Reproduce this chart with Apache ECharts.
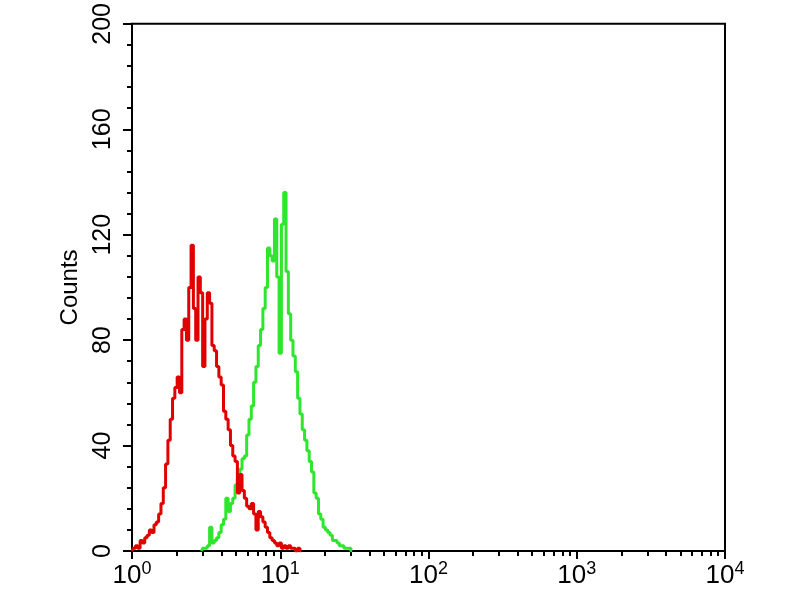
<!DOCTYPE html>
<html>
<head>
<meta charset="utf-8">
<script src="https://cdn.jsdelivr.net/npm/echarts@6/dist/echarts.min.js"></script>
<style>html,body{margin:0;padding:0;background:#fff}#c{width:800px;height:600px}</style>
</head>
<body>
<div id="c"></div>
<script>
// Histogram channels: 64 log-spaced channels per decade, x = 10^(channel/64)
var channelsPerDecade = 64;
var redStartChannel = 0;
var redCounts = [0,1,2,1,4,3,5,6,8,7,10,11,14,18,24,33,42,50,58,62,66,60,84,88,80,100,116,92,80,104,98,70,88,98,94,78,76,70,66,63,53,50,46,40,36,34,22,29,23,20,17,16,18,14,8,15,13,11,9,7,5,4,3,2,3,1,2,1,2,1,1,0,1,0];
var greenStartChannel = 30;
var greenCounts = [0,1,1,2,9,3,4,5,7,10,12,20,15,18,20,25,28,31,35,36,44,50,55,64,70,78,84,92,100,115,112,110,126,104,75,124,136,106,90,80,74,68,58,52,46,42,38,34,30,22,20,14,12,9,8,7,6,4,4,3,2,2,1,1,1,0];
var xMajorTicks = [1, 10, 100, 1000, 10000];
var xMinorTicks = [2,3,4,5,6,7,8,9,20,30,40,50,60,70,80,90,200,300,400,500,600,700,800,900,2000,3000,4000,5000,6000,7000,8000,9000];
var yTicks = [0, 40, 80, 120, 160, 200];
var yAxisName = 'Counts';

function toPairs(start, counts) {
  return counts.map(function (c, i) { return [Math.pow(10, (start + i) / channelsPerDecade), c]; });
}

var font = '"Liberation Sans", Arial, sans-serif';
var chart = echarts.init(document.getElementById('c'), null, {renderer: 'canvas'});
chart.setOption({
  animation: false,
  backgroundColor: '#fff',
  grid: {left: 132, right: 75, top: 21, bottom: 49, show: true, borderColor: '#000', borderWidth: 2, backgroundColor: 'transparent'},
  xAxis: [{
    type: 'log', logBase: 10, min: 1, max: 10000,
    axisLine: {show: true, onZero: false, lineStyle: {color: '#000', width: 2}},
    axisTick: {show: true, inside: false, length: 8, customValues: xMajorTicks, lineStyle: {color: '#000', width: 2}},
    splitLine: {show: false},
    axisLabel: {
      margin: 8, color: '#000', fontFamily: font, customValues: xMajorTicks,
      formatter: function (v) { return '{b|10}{s|' + Math.round(Math.log10(v)) + '}'; },
      rich: {
        b: {fontSize: 26, fontFamily: font, color: '#000', verticalAlign: 'bottom', lineHeight: 30},
        s: {fontSize: 18, fontFamily: font, color: '#000', verticalAlign: 'bottom', lineHeight: 30, padding: [0, 0, 11, 0]}
      }
    }
  }, {
    type: 'log', logBase: 10, min: 1, max: 10000, position: 'bottom',
    axisLine: {show: false},
    axisTick: {show: true, inside: false, length: 5, customValues: xMinorTicks, lineStyle: {color: '#000', width: 2}},
    axisLabel: {show: false},
    splitLine: {show: false}
  }],
  yAxis: {
    type: 'value', min: 0, max: 200, interval: 40,
    name: yAxisName, nameLocation: 'middle', nameRotate: 90, nameGap: 50,
    nameTextStyle: {fontSize: 24, fontFamily: font, color: '#000'},
    axisLine: {show: true, lineStyle: {color: '#000', width: 2}},
    axisTick: {show: true, length: 9, lineStyle: {color: '#000', width: 2}},
    minorTick: {show: true, splitNumber: 5, length: 5, lineStyle: {color: '#000', width: 2}},
    splitLine: {show: false},
    axisLabel: {rotate: 90, margin: 16, fontSize: 25, fontFamily: font, color: '#000', showMaxLabel: true}
  },
  series: [{
    type: 'line', name: 'green', data: toPairs(greenStartChannel, greenCounts),
    step: 'middle', showSymbol: false, symbol: 'none',
    lineStyle: {color: '#2ee62e', width: 3}, z: 2
  }, {
    type: 'line', name: 'red', data: toPairs(redStartChannel, redCounts),
    step: 'middle', showSymbol: false, symbol: 'none',
    lineStyle: {color: '#e00000', width: 3}, z: 3
  }]
});
</script>
</body>
</html>
